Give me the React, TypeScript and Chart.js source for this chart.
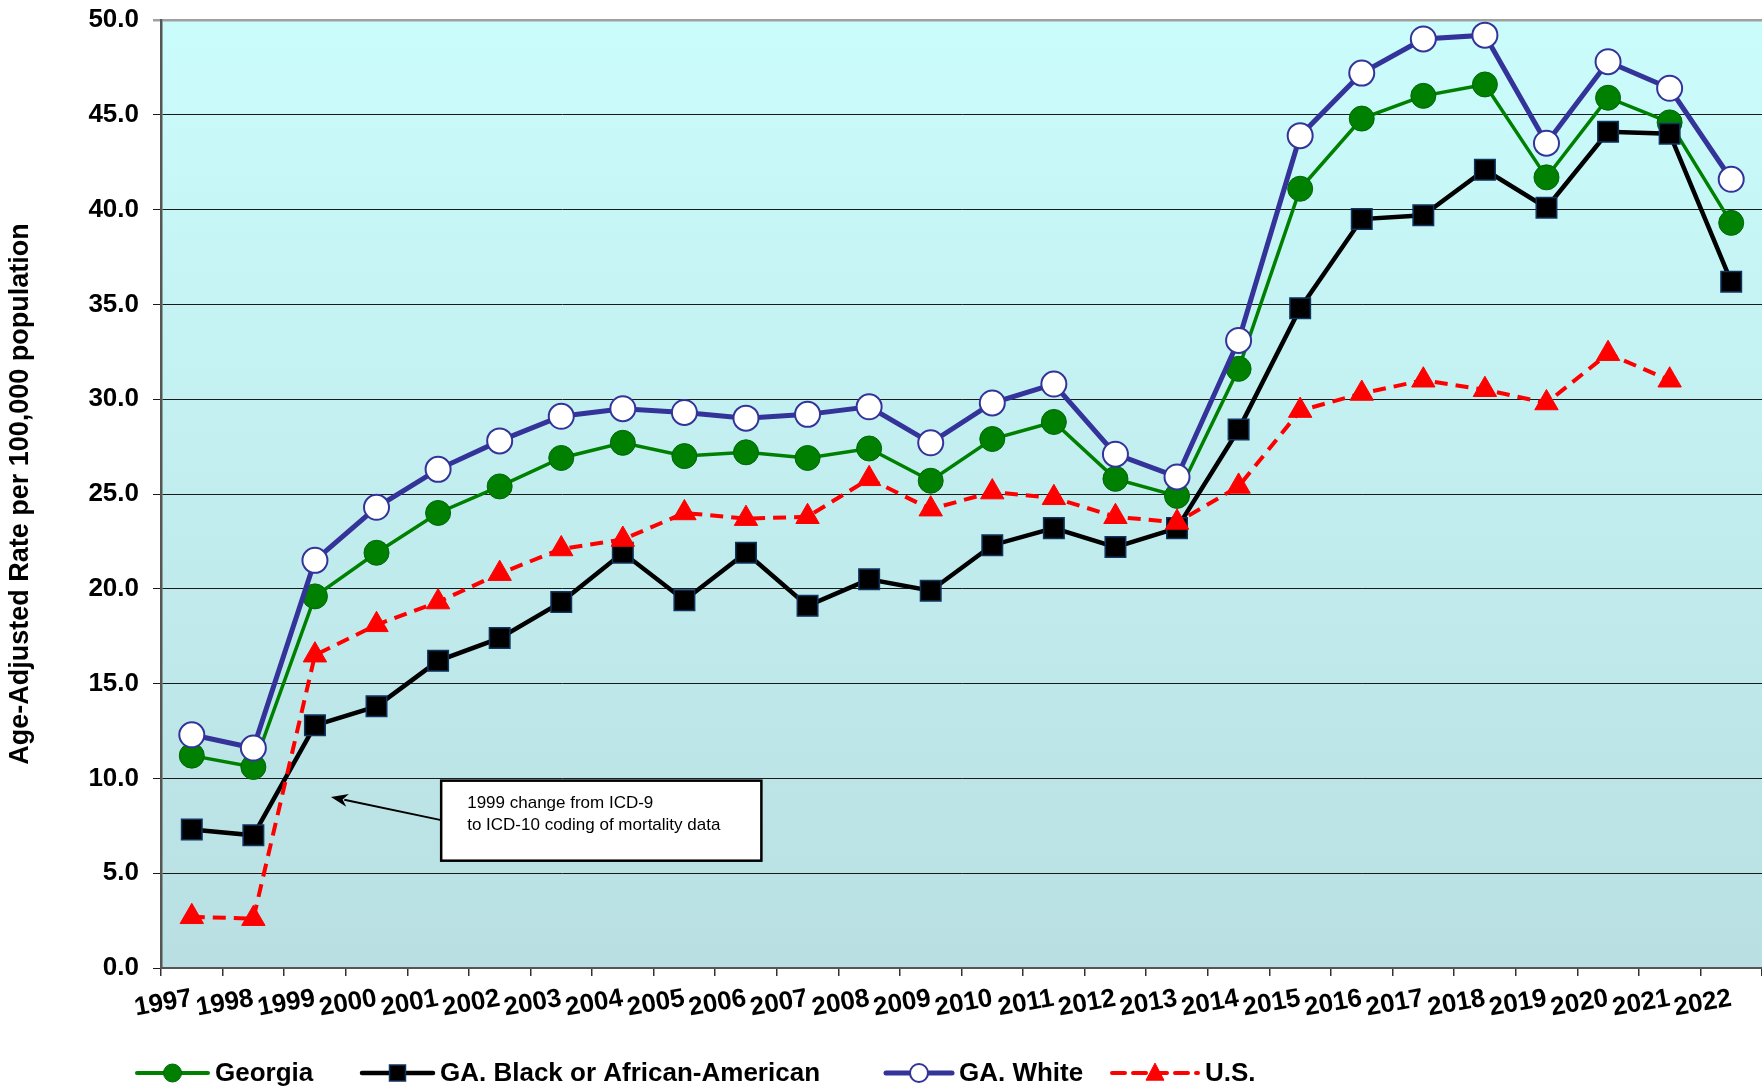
import React, { useEffect, useRef } from 'react';
import { Chart, registerables } from 'chart.js';
Chart.register(...registerables);

const years = ['1997', '1998', '1999', '2000', '2001', '2002', '2003', '2004', '2005', '2006', '2007', '2008', '2009', '2010', '2011', '2012', '2013', '2014', '2015', '2016', '2017', '2018', '2019', '2020', '2021', '2022'];
const georgia = [11.2, 10.6, 19.6, 21.9, 24.0, 25.4, 26.9, 27.7, 27.0, 27.2, 26.9, 27.4, 25.7, 27.9, 28.8, 25.8, 24.9, 31.6, 41.1, 44.8, 46.0, 46.6, 41.7, 45.9, 44.6, 39.3];
const gaBlack = [7.3, 7.0, 12.8, 13.8, 16.2, 17.4, 19.3, 21.9, 19.4, 21.9, 19.1, 20.5, 19.9, 22.3, 23.2, 22.2, 23.2, 28.4, 34.8, 39.5, 39.7, 42.1, 40.1, 44.1, 44.0, 36.2];
const gaWhite = [12.3, 11.6, 21.5, 24.3, 26.3, 27.8, 29.1, 29.5, 29.3, 29.0, 29.2, 29.6, 27.7, 29.8, 30.8, 27.1, 25.9, 33.1, 43.9, 47.2, 49.0, 49.2, 43.5, 47.8, 46.4, 41.6];
const usRate = [2.7, 2.6, 16.5, 18.1, 19.3, 20.8, 22.1, 22.6, 24.0, 23.7, 23.8, 25.8, 24.2, 25.1, 24.8, 23.8, 23.5, 25.4, 29.4, 30.3, 31.0, 30.5, 29.8, 32.4, 31.0, null];
const seriesNames = ['Georgia', 'GA. Black or African-American', 'GA. White', 'U.S.'];
const yAxisTitle = 'Age-Adjusted Rate per 100,000 population';
const noteLines = ['1999 change from ICD-9', 'to ICD-10 coding of mortality data'];

const FONT = '"Liberation Sans", Arial, Helvetica, sans-serif';

const bgPlugin = {
  id: 'bgGradient',
  beforeDraw(chart: any) {
    const { ctx, chartArea } = chart;
    if (!chartArea) return;
    const g = ctx.createLinearGradient(0, chartArea.top, 0, chartArea.bottom);
    g.addColorStop(0, '#CBFCFC');
    g.addColorStop(1, '#B9DFE2');
    ctx.save();
    ctx.fillStyle = g;
    ctx.fillRect(chartArea.left, chartArea.top, chartArea.right - chartArea.left, chartArea.bottom - chartArea.top);
    ctx.restore();
  },
};

function drawMarker(ctx: CanvasRenderingContext2D, style: string, x: number, y: number, r: number, fill: string, stroke: string, lw: number) {
  ctx.save();
  ctx.setLineDash([]);
  ctx.fillStyle = fill;
  ctx.strokeStyle = stroke;
  ctx.lineWidth = lw;
  ctx.beginPath();
  if (style === 'circle') {
    ctx.arc(x, y, r, 0, Math.PI * 2);
  } else if (style === 'rect') {
    ctx.rect(x - r, y - r, 2 * r, 2 * r);
  } else {
    ctx.moveTo(x, y - r * 1.1);
    ctx.lineTo(x + r, y + r * 0.8);
    ctx.lineTo(x - r, y + r * 0.8);
    ctx.closePath();
  }
  ctx.fill();
  if (lw > 0) ctx.stroke();
  ctx.restore();
}

// legend layout: symbol start x and symbol width per entry
const legendSlots = [
  { x: 137, w: 71 },
  { x: 362, w: 71 },
  { x: 886, w: 66 },
  { x: 1112, w: 86 },
];

const legendPlugin = {
  id: 'customLegend',
  afterDraw(chart: any) {
    const { ctx } = chart;
    const y = 1073;
    ctx.save();
    ctx.font = `bold 26px ${FONT}`;
    ctx.textBaseline = 'middle';
    ctx.fillStyle = '#000';
    chart.data.datasets.forEach((ds: any, i: number) => {
      const { x, w } = legendSlots[i];
      ctx.save();
      ctx.strokeStyle = ds.borderColor;
      ctx.lineWidth = Math.max(ds.borderWidth, 4);
      ctx.setLineDash(ds.borderDash || []);
      ctx.lineCap = 'round';
      ctx.beginPath();
      ctx.moveTo(x, y);
      ctx.lineTo(x + w, y);
      ctx.stroke();
      ctx.restore();
      const r = ds.pointStyle === 'rect' ? 8 : 9;
      drawMarker(ctx, ds.pointStyle, x + w / 2, y, r, ds.pointBackgroundColor, ds.pointBorderColor, ds.pointBorderWidth);
      ctx.fillStyle = '#000';
      ctx.fillText(seriesNames[i], x + w + 7, y + 1);
    });
    ctx.restore();
  },
};

const notePlugin = {
  id: 'noteBox',
  afterDraw(chart: any) {
    const { ctx } = chart;
    const xs = chart.scales.x;
    const ys = chart.scales.y;
    const bx0 = xs.getPixelForValue(4.05);
    const bx1 = xs.getPixelForValue(9.25);
    const by0 = ys.getPixelForValue(9.88);
    const by1 = ys.getPixelForValue(5.66);
    ctx.save();
    const tx = xs.getPixelForValue(2.26);
    const ty = ys.getPixelForValue(9.02);
    const sx = bx0;
    const sy = ys.getPixelForValue(7.8);
    const ang = Math.atan2(ty - sy, tx - sx);
    const headLen = 17;
    const hw = 6.5;
    ctx.strokeStyle = '#000';
    ctx.lineWidth = 2;
    ctx.beginPath();
    ctx.moveTo(sx, sy);
    ctx.lineTo(tx - Math.cos(ang) * headLen * 0.8, ty - Math.sin(ang) * headLen * 0.8);
    ctx.stroke();
    ctx.fillStyle = '#000';
    ctx.beginPath();
    ctx.moveTo(tx, ty);
    ctx.lineTo(tx - Math.cos(ang) * headLen - Math.sin(ang) * hw, ty - Math.sin(ang) * headLen + Math.cos(ang) * hw);
    ctx.lineTo(tx - Math.cos(ang) * headLen * 0.7, ty - Math.sin(ang) * headLen * 0.7);
    ctx.lineTo(tx - Math.cos(ang) * headLen + Math.sin(ang) * hw, ty - Math.sin(ang) * headLen - Math.cos(ang) * hw);
    ctx.closePath();
    ctx.fill();
    ctx.fillStyle = '#fff';
    ctx.fillRect(bx0, by0, bx1 - bx0, by1 - by0);
    ctx.lineWidth = 2.5;
    ctx.strokeStyle = '#000';
    ctx.strokeRect(bx0, by0, bx1 - bx0, by1 - by0);
    ctx.fillStyle = '#000';
    ctx.font = `17px ${FONT}`;
    ctx.textBaseline = 'middle';
    ctx.textAlign = 'left';
    noteLines.forEach((t, i) => {
      ctx.fillText(t, bx0 + 26, by0 + 23 + i * 22);
    });
    ctx.restore();
  },
};

export default function App() {
  const ref = useRef<HTMLCanvasElement>(null);
  useEffect(() => {
    document.body.style.margin = '0';
    if (!ref.current) return;
    Chart.defaults.font.family = FONT;
    const chart = new Chart(ref.current, {
      type: 'line',
      data: {
        labels: years,
        datasets: [
          {
            label: seriesNames[0],
            data: georgia,
            borderColor: '#008000',
            borderWidth: 3.5,
            pointStyle: 'circle',
            pointRadius: 12.5,
            pointBackgroundColor: '#008000',
            pointBorderColor: '#00660A',
            pointBorderWidth: 1,
            tension: 0,
            order: 4,
          },
          {
            label: seriesNames[1],
            data: gaBlack,
            borderColor: '#000000',
            borderWidth: 4.5,
            pointStyle: 'rect',
            pointRadius: 14.5,
            pointBackgroundColor: '#000000',
            pointBorderColor: '#0E3460',
            pointBorderWidth: 1.5,
            tension: 0,
            order: 3,
          },
          {
            label: seriesNames[2],
            data: gaWhite,
            borderColor: '#333399',
            borderWidth: 5,
            pointStyle: 'circle',
            pointRadius: 12.5,
            pointBackgroundColor: '#ffffff',
            pointBorderColor: '#333399',
            pointBorderWidth: 2,
            tension: 0,
            order: 2,
          },
          {
            label: seriesNames[3],
            data: usRate,
            borderColor: '#FF0000',
            borderWidth: 4,
            borderDash: [13, 8],
            pointStyle: 'triangle',
            pointRadius: 13.5,
            pointBackgroundColor: '#FF0000',
            pointBorderColor: '#FF0000',
            pointBorderWidth: 1,
            tension: 0,
            order: 1,
          },
        ] as any,
      },
      options: {
        animation: false,
        responsive: false,
        layout: { autoPadding: false, padding: { top: 20, right: 0, left: 0, bottom: 0 } },
        plugins: {
          legend: { display: false },
          tooltip: { enabled: false },
        },
        scales: {
          x: {
            type: 'category',
            offset: true,
            afterFit: (s: any) => {
              s.height = 120;
              s.paddingRight = 0;
              s.paddingLeft = 0;
            },
            grid: {
              display: true,
              drawOnChartArea: false,
              drawTicks: true,
              tickLength: 8,
              offset: true,
              color: '#333',
              lineWidth: 1.5,
            },
            border: { display: true, color: '#555', width: 2 },
            ticks: {
              autoSkip: false,
              minRotation: 10,
              maxRotation: 10,
              padding: 7,
              color: '#000',
              font: { size: 26, weight: 'bold', family: FONT },
            },
          },
          y: {
            min: 0,
            max: 50,
            afterFit: (s: any) => {
              s.width = 161;
              s.paddingTop = 0;
              s.paddingBottom = 0;
            },
            grid: {
              color: (c: any) => (c.tick && c.tick.value === 50 ? '#A0A0A0' : '#1a1a1a'),
              lineWidth: (c: any) => (c.tick && c.tick.value === 50 ? 2.5 : 1),
              tickLength: 8,
            },
            border: { display: true, color: '#555', width: 2.5 },
            ticks: {
              stepSize: 5,
              padding: 14,
              color: '#000',
              font: { size: 26, weight: 'bold', family: FONT },
              callback: (v: any) => Number(v).toFixed(1),
            },
            title: {
              display: true,
              text: yAxisTitle,
              color: '#000',
              font: { size: 27, weight: 'bold', family: FONT },
              padding: { top: 4, bottom: 0 },
            },
          },
        },
      } as any,
      plugins: [bgPlugin, notePlugin, legendPlugin],
    });
    return () => chart.destroy();
  }, []);
  return <canvas ref={ref} width={1762} height={1088} style={{ display: 'block' }} />;
}
